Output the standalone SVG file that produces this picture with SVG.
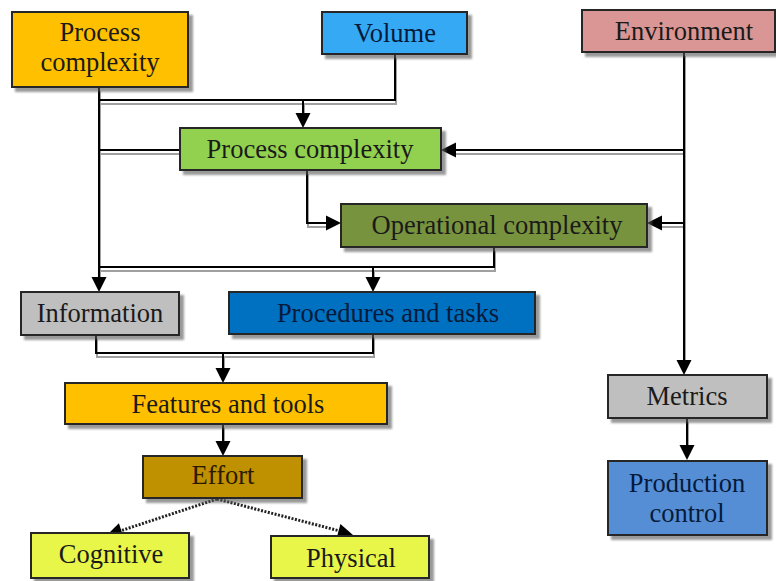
<svg xmlns="http://www.w3.org/2000/svg" width="776" height="581" viewBox="0 0 776 581">
<defs>
<filter id="bs" x="-10%" y="-10%" width="130%" height="140%">
<feDropShadow dx="4" dy="4" stdDeviation="1" flood-color="#555" flood-opacity="0.6"/>
</filter>
<filter id="ls" filterUnits="userSpaceOnUse" x="0" y="0" width="776" height="581">
<feDropShadow dx="1" dy="4" stdDeviation="0.4" flood-color="#888" flood-opacity="0.8"/>
</filter>
<path id="ah" d="M0,0 L-15,-7.5 L-15,7.5 z" fill="#000"/>
</defs>
<style>
.box{stroke:#262626;stroke-width:2}
.c{fill:none;stroke:#000;stroke-width:2}
.d{fill:none;stroke:#222;stroke-width:3;stroke-dasharray:2 1.5}
</style>
<rect width="776" height="581" fill="#fff"/>
<g id="connectors">
<g filter="url(#ls)">
<path class="c" d="M395,54 V100 H99"/>
<path class="c" d="M303,100 V114"/>
<path class="c" d="M99,87 V278"/>
<path class="c" d="M99,150 H180"/>
<path class="c" d="M684,52 V361"/>
<path class="c" d="M684,150 H455"/>
<path class="c" d="M684,223 H661"/>
<path class="c" d="M307,170 V223 H327"/>
<path class="c" d="M494,247 V267 H99"/>
<path class="c" d="M373,267 V278"/>
<path class="c" d="M96,335 V353 H373 V334"/>
<path class="c" d="M223,353 V369"/>
<path class="c" d="M223,424 V442"/>
<path class="c" d="M687,418 V446"/>
</g>
<use href="#ah" transform="translate(303,128) rotate(90)"/>
<use href="#ah" transform="translate(99,292) rotate(90)"/>
<use href="#ah" transform="translate(684,375) rotate(90)"/>
<use href="#ah" transform="translate(441,150) rotate(180)"/>
<use href="#ah" transform="translate(647,223) rotate(180)"/>
<use href="#ah" transform="translate(341,223)"/>
<use href="#ah" transform="translate(373,292) rotate(90)"/>
<use href="#ah" transform="translate(223,383) rotate(90)"/>
<use href="#ah" transform="translate(223,456) rotate(90)"/>
<use href="#ah" transform="translate(687,460) rotate(90)"/>
<path class="d" d="M217,499 L120,531"/>
<path class="d" d="M217,499 L340,531"/>
<use href="#ah" transform="translate(107,535) rotate(161.8)"/>
<use href="#ah" transform="translate(353,535) rotate(14.8)"/>
</g>
<g id="n-process-top"><rect class="box" filter="url(#bs)" x="12" y="12" width="176" height="75" fill="#FFC000"/><text font-family="Liberation Serif" font-size="26.5" text-anchor="middle" fill="#1a1a1a" x="100" y="41">Process</text><text font-family="Liberation Serif" font-size="26.5" text-anchor="middle" fill="#1a1a1a" x="100" y="71">complexity</text></g>
<g id="n-volume"><rect class="box" filter="url(#bs)" x="322" y="12" width="145" height="42" fill="#35A9F4"/><text font-family="Liberation Serif" font-size="26.5" text-anchor="middle" fill="#061a3a" x="395" y="42">Volume</text></g>
<g id="n-environment"><rect class="box" filter="url(#bs)" x="582" y="10" width="193" height="42" fill="#D99694"/><text font-family="Liberation Serif" font-size="26.5" text-anchor="middle" fill="#1a1a1a" x="684" y="40">Environment</text></g>
<g id="n-process-green"><rect class="box" filter="url(#bs)" x="180" y="128" width="261" height="42" fill="#92D050"/><text font-family="Liberation Serif" font-size="26.5" text-anchor="middle" fill="#1a1a1a" x="310" y="158">Process complexity</text></g>
<g id="n-operational"><rect class="box" filter="url(#bs)" x="341" y="204" width="306" height="43" fill="#77933C"/><text font-family="Liberation Serif" font-size="26.5" text-anchor="middle" fill="#1a1a1a" x="497" y="234">Operational complexity</text></g>
<g id="n-information"><rect class="box" filter="url(#bs)" x="21" y="292" width="158" height="43" fill="#BFBFBF"/><text font-family="Liberation Serif" font-size="26.5" text-anchor="middle" fill="#1a1a1a" x="100" y="322">Information</text></g>
<g id="n-procedures"><rect class="box" filter="url(#bs)" x="229" y="292" width="306" height="42" fill="#0070C0"/><text font-family="Liberation Serif" font-size="26.5" text-anchor="middle" fill="#061a3a" x="388" y="322">Procedures and tasks</text></g>
<g id="n-features"><rect class="box" filter="url(#bs)" x="65" y="383" width="322" height="41" fill="#FFC000"/><text font-family="Liberation Serif" font-size="26.5" text-anchor="middle" fill="#1a1a1a" x="228" y="413">Features and tools</text></g>
<g id="n-effort"><rect class="box" filter="url(#bs)" x="143" y="456" width="159" height="42" fill="#BF9000"/><text font-family="Liberation Serif" font-size="26.5" text-anchor="middle" fill="#2a1a00" x="223" y="484">Effort</text></g>
<g id="n-cognitive"><rect class="box" filter="url(#bs)" x="31" y="533" width="158" height="45" fill="#E8F64A"/><text font-family="Liberation Serif" font-size="26.5" text-anchor="middle" fill="#1a1a1a" x="111" y="563">Cognitive</text></g>
<g id="n-physical"><rect class="box" filter="url(#bs)" x="271" y="536" width="158" height="42" fill="#E8F64A"/><text font-family="Liberation Serif" font-size="26.5" text-anchor="middle" fill="#1a1a1a" x="351" y="567">Physical</text></g>
<g id="n-metrics"><rect class="box" filter="url(#bs)" x="608" y="375" width="159" height="43" fill="#BFBFBF"/><text font-family="Liberation Serif" font-size="26.5" text-anchor="middle" fill="#1a1a1a" x="687" y="405">Metrics</text></g>
<g id="n-production"><rect class="box" filter="url(#bs)" x="608" y="461" width="159" height="74" fill="#558ED5"/><text font-family="Liberation Serif" font-size="26.5" text-anchor="middle" fill="#061a3a" x="687" y="492">Production</text><text font-family="Liberation Serif" font-size="26.5" text-anchor="middle" fill="#061a3a" x="687" y="522">control</text></g>
</svg>
